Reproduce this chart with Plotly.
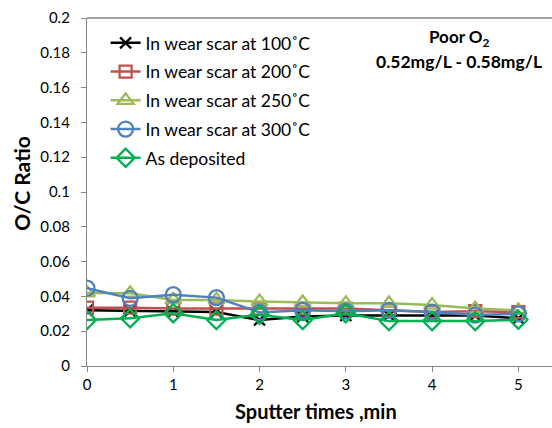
import plotly.graph_objects as go

x_vals = [0, 0.5, 1, 1.5, 2, 2.5, 3, 3.5, 4, 4.5, 5]
s100 = [0.032, 0.0316, 0.031, 0.031, 0.0264, 0.0284, 0.029, 0.029, 0.0286, 0.029, 0.0274]
s200 = [0.0335, 0.0335, 0.033, 0.033, 0.033, 0.033, 0.033, 0.032, 0.031, 0.0315, 0.031]
s250 = [0.042, 0.0418, 0.038, 0.038, 0.037, 0.0365, 0.036, 0.036, 0.035, 0.033, 0.032]
s300 = [0.0447, 0.0389, 0.041, 0.0393, 0.0308, 0.032, 0.0315, 0.032, 0.031, 0.0293, 0.030]
dep = [0.0264, 0.0274, 0.0303, 0.0264, 0.0295, 0.0264, 0.0303, 0.0258, 0.0258, 0.0258, 0.0266]

names = ["In wear scar at 100˚C", "In wear scar at 200˚C", "In wear scar at 250˚C",
         "In wear scar at 300˚C", "As deposited"]
series = [s100, s200, s250, s300, dep]
colors = ["#000000", "#C0504D", "#9BBB59", "#4F81BD", "#00B050"]
symbols = ["x-thin-open", "square-open", "triangle-up-open", "circle-open", "diamond-open"]
sizes = [11, 12, 14, 15, 14]

FONT = "Lato"
fig = go.Figure()
for i, (nm, ys) in enumerate(zip(names, series)):
    fig.add_trace(go.Scatter(
        x=x_vals, y=ys, name=nm, mode="lines+markers", legendgroup=str(i),
        line=dict(color=colors[i], width=2.5),
        marker=dict(symbol=symbols[i], size=sizes[i], color=colors[i],
                    line=dict(color=colors[i], width=2.3)),
    ))

fig.update_layout(
    width=552, height=428,
    margin=dict(l=87, r=0, t=18, b=62),
    paper_bgcolor="white", plot_bgcolor="white",
    font=dict(family=FONT, size=14, color="#000000"),
    showlegend=True,
    legend=dict(x=0.04, y=0.98, xanchor="left", yanchor="top",
                bgcolor="rgba(0,0,0,0)", font=dict(size=17.5, family=FONT),
                tracegroupgap=3, itemwidth=30),
    xaxis=dict(range=[0, 5.39], dtick=1, tick0=0, showgrid=False, zeroline=False,
               showline=True, linecolor="#868686", linewidth=1.3,
               ticks="outside", ticklen=5, tickcolor="#868686",
               tickfont=dict(size=15, family=FONT)),
    yaxis=dict(range=[0, 0.2], dtick=0.02, tick0=0, showgrid=False, zeroline=False,
               showline=True, linecolor="#868686", linewidth=1.3,
               ticks="outside", ticklen=5, tickcolor="#868686",
               ticklabelstandoff=8,
               tickfont=dict(size=15, family=FONT)),
    shapes=[dict(type="line", xref="paper", yref="paper", x0=0, x1=1, y0=1, y1=1,
                 line=dict(color="#868686", width=1.3))],
    annotations=[
        dict(text="<b>O/C Ratio</b>", xref="paper", yref="paper", x=-0.14, y=0.526,
             xanchor="center", yanchor="middle", textangle=-90, showarrow=False,
             font=dict(size=21, family=FONT)),
        dict(text="<b>Sputter times ,min</b>", xref="paper", yref="paper", x=0.4925, y=-0.129,
             xanchor="center", yanchor="middle", showarrow=False,
             font=dict(size=20, family=FONT)),
        dict(text="<b>Poor O<sub>2</sub></b>", xref="paper", yref="paper", x=0.80, y=0.9425,
             xanchor="center", yanchor="middle", showarrow=False,
             font=dict(size=17, family=FONT)),
        dict(text="<b>0.52mg/L - 0.58mg/L</b>", xref="paper", yref="paper", x=0.80, y=0.876,
             xanchor="center", yanchor="middle", showarrow=False,
             font=dict(size=17.5, family=FONT)),
    ],
)

fig.write_html("out.html", config={"displayModeBar": False},
               post_script="document.body.style.margin='0';document.body.style.padding='0';")
